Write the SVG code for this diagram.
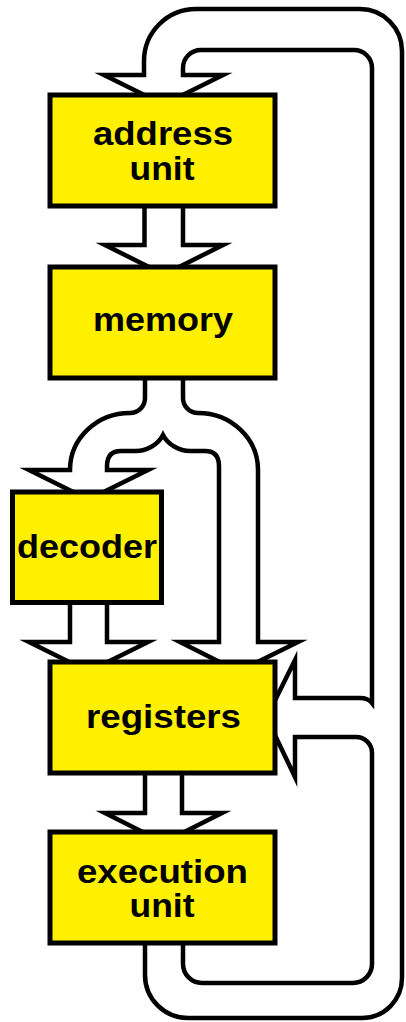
<svg xmlns="http://www.w3.org/2000/svg" width="406" height="1022" viewBox="0 0 406 1022">
  <style>
    .flow { fill: #ffffff; stroke: #000000; stroke-width: 4.5; stroke-linejoin: miter; stroke-miterlimit: 10; }
    .box { fill: #fff000; stroke: #000000; stroke-width: 5; }
    .label { font-family: "Liberation Sans", Arial, Helvetica, sans-serif; font-weight: bold; font-size: 34px; fill: #000000; text-anchor: middle; }
  </style>
  <rect width="406" height="1022" fill="#ffffff"/>

  <!-- wide outlined flow arrows, drawn under the boxes -->
  <g id="connectors">
    <!-- address unit -> memory -->
    <path class="flow" d="M144.5,200 V245 H105 L164,274.5 L223,245 H183 V200 Z"/>
    <!-- memory -> decoder and registers (split) -->
    <path class="flow" d="M183,372 V398 A15,15 0 0 0 198,413 A60,57 0 0 1 258,470 V642 H298 L238.5,671.5 L180,642 H219 V466 Q219,451 205,451 H190 C180,451 168,445 163,435 C158,445 146,451 136,451 H121 Q107,451 107,466 V470 H148 L88.5,499.5 L29,470 H70 A60,57 0 0 1 130,413 A15,15 0 0 0 145,398 V372 Z"/>
    <!-- decoder -> registers -->
    <path class="flow" d="M70,598 V642 H29 L88.5,671.5 L148,642 H107 V598 Z"/>
    <!-- registers -> execution unit -->
    <path class="flow" d="M145,768 V813 H105 L163.5,842.5 L222,813 H182 V768 Z"/>
    <!-- execution unit -> registers and back up to address unit -->
    <path class="flow" d="M145,936 V975 A43,43 0 0 0 188,1018 H362 A40,40 0 0 0 402,978 V51 A42,42 0 0 0 360,9 H196 A52,52 0 0 0 144,61 V75 H104 L163.5,104.5 L223,75 H183 V68 A18,18 0 0 1 201,50 H354 A18,18 0 0 1 372,68 V703 Q368,698 360,698 H295 V660 L266.5,717.5 L295,777 V737 H356 A16,16 0 0 1 372,753 V964 A19,19 0 0 1 353,983 H202 A19,19 0 0 1 183,964 V936 Z"/>
  </g>

  <g id="address-unit">
    <rect class="box" x="50" y="95" width="225" height="111"/>
    <text class="label" x="163" y="145" textLength="140" lengthAdjust="spacingAndGlyphs">address</text>
    <text class="label" x="162" y="180" textLength="65" lengthAdjust="spacingAndGlyphs">unit</text>
  </g>

  <g id="memory">
    <rect class="box" x="50" y="267" width="225" height="111"/>
    <text class="label" x="163" y="330.5" textLength="140" lengthAdjust="spacingAndGlyphs">memory</text>
  </g>

  <g id="decoder">
    <rect class="box" x="12.5" y="492" width="149" height="110.5"/>
    <text class="label" x="87" y="558" textLength="140" lengthAdjust="spacingAndGlyphs">decoder</text>
  </g>

  <g id="registers">
    <rect class="box" x="50" y="662" width="225" height="111"/>
    <text class="label" x="163.5" y="728" textLength="155" lengthAdjust="spacingAndGlyphs">registers</text>
  </g>

  <g id="execution-unit">
    <rect class="box" x="50" y="832" width="225" height="111"/>
    <text class="label" x="162.5" y="882.5" textLength="171" lengthAdjust="spacingAndGlyphs">execution</text>
    <text class="label" x="162" y="917" textLength="65" lengthAdjust="spacingAndGlyphs">unit</text>
  </g>
</svg>
